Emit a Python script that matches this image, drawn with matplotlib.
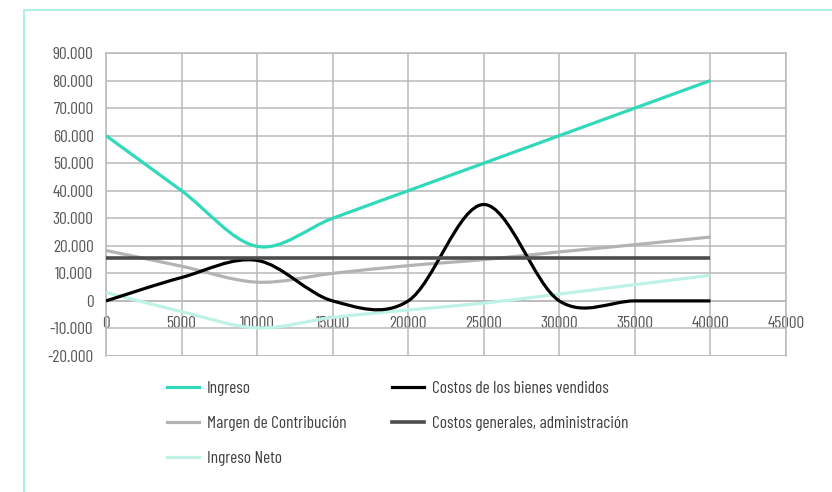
import numpy as np
import matplotlib
matplotlib.use("Agg")
import matplotlib.pyplot as plt
from matplotlib.path import Path
from matplotlib.patches import PathPatch, Rectangle
from matplotlib.lines import Line2D
from matplotlib.ticker import FuncFormatter

plt.rcParams["font.family"] = ["Barlow Condensed", "DejaVu Sans"]

unidades = [0, 5000, 10000, 15000, 20000, 25000, 30000, 35000, 40000]

ingreso = [60000, 40000, 19800, 30000, 40000, 50000, 60000, 70000, 80000]
costos_bienes = [0, 8500, 14700, 0, 0, 35000, 0, 0, 0]
margen = [18300, 12600, 6800, 10000, 12800, 15000, 17800, 20400, 23200]
costos_generales = [15700] * len(unidades)
ingreso_neto = [3100, -3900, -9800, -6000, -3300, -800, 2500, 5900, 9300]

series = [
    ("Ingreso", ingreso, "#2fd9b9", 2.3, True),
    ("Margen de Contribución", margen, "#b3b3b3", 2.3, True),
    ("Ingreso Neto", ingreso_neto, "#bff2e6", 2.3, True),
    ("Costos de los bienes vendidos", costos_bienes, "#000000", 2.3, True),
    ("Costos generales, administración", costos_generales, "#4d4d4d", 2.6, False),
]

x_ticks = list(range(0, 45001, 5000))
y_ticks = list(range(-20000, 90001, 10000))

TEXT = "#595959"
GRID = "#b9b9b9"


def smooth_path(xs, ys):
    # cubic bezier through the points, catmull-rom style tangents
    pts = np.column_stack([xs, ys]).astype(float)
    n = len(pts)
    verts = [pts[0]]
    codes = [Path.MOVETO]
    for i in range(n - 1):
        p0 = pts[i - 1] if i > 0 else pts[i]
        p1 = pts[i]
        p2 = pts[i + 1]
        p3 = pts[i + 2] if i + 2 < n else pts[i + 1]
        verts += [p1 + (p2 - p0) / 6, p2 - (p3 - p1) / 6, p2]
        codes += [Path.CURVE4] * 3
    return Path(verts, codes)


def thousands(v, pos):
    if v == 0:
        return "0"
    return f"{v:,.0f}".replace(",", ".")


fig = plt.figure(figsize=(8.32, 4.92), dpi=100)
ax = fig.add_axes([106 / 832, 1 - 356 / 492, 680 / 832, 303 / 492])

ax.set_xlim(0, 45000)
ax.set_ylim(-20000, 90000)
ax.set_xticks(x_ticks)
ax.set_yticks(y_ticks)
ax.yaxis.set_major_formatter(FuncFormatter(thousands))
ax.grid(True, color=GRID, linewidth=1.1)
ax.set_axisbelow(True)

for side in ["left", "right", "top"]:
    ax.spines[side].set_color(GRID)
    ax.spines[side].set_linewidth(1.1)
ax.spines["bottom"].set_position(("data", 0))
ax.spines["bottom"].set_color(GRID)
ax.spines["bottom"].set_linewidth(1.1)
# bottom frame edge, since the x axis sits at zero
ax.axhline(-20000, color=GRID, linewidth=1.1)

ax.tick_params(axis="both", length=0, colors=TEXT, labelsize=12.5)
ax.tick_params(axis="x", pad=11)
ax.tick_params(axis="y", pad=9)

handles = []
for label, values, color, lw, smooth in series:
    if smooth:
        patch = PathPatch(smooth_path(unidades, values), facecolor="none",
                          edgecolor=color, linewidth=lw, zorder=3)
        ax.add_patch(patch)
    else:
        ax.plot([-200] + unidades[1:], values, color=color, linewidth=lw,
                zorder=3, solid_capstyle="butt")
    handles.append(Line2D([], [], color=color, linewidth=lw, label=label))

fig.legend(handles=handles, ncol=2, loc="upper left",
           bbox_to_anchor=(167 / 832, 1 - 381 / 492), frameon=False,
           fontsize=12.5, handlelength=1.85, handletextpad=0.45,
           labelspacing=1.15, columnspacing=2.6, borderpad=0,
           borderaxespad=0, labelcolor="#404040")

# thin turquoise frame round the chart block
fig.patches.append(Rectangle((24 / 832, -0.1), 1.2, 1 - 10 / 492 + 0.1,
                             transform=fig.transFigure, fill=False,
                             edgecolor="#9eeedd", linewidth=1.2))

fig.savefig("out.png", dpi=100)
